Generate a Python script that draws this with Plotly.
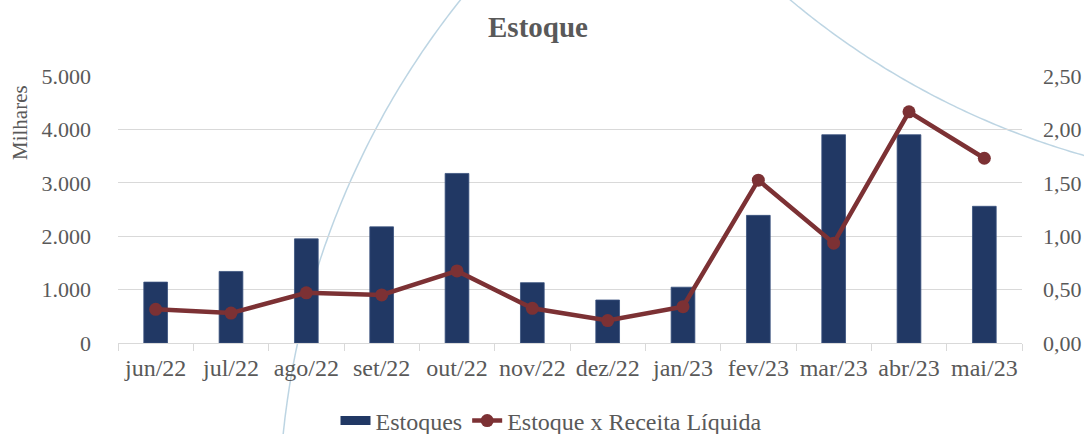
import numpy as np
import plotly.graph_objects as go

# ---- data ----
categories = ["jun/22", "jul/22", "ago/22", "set/22", "out/22", "nov/22",
              "dez/22", "jan/23", "fev/23", "mar/23", "abr/23", "mai/23"]
estoques = [1140, 1340, 1950, 2175, 3175, 1130, 805, 1045, 2390, 3900, 3900, 2560]
estoque_receita = [0.315, 0.28, 0.47, 0.45, 0.675, 0.325, 0.21, 0.34, 1.525, 0.935, 2.165, 1.73]
left_ticks = [0, 1000, 2000, 3000, 4000, 5000]
right_ticks = [0, 0.5, 1.0, 1.5, 2.0, 2.5]

# ---- styling ----
FONT = "Liberation Serif, Times New Roman, serif"
GREY = "#595959"
GRID = "#d9d9d9"
NAVY = "#213864"
MAROON = "#7c3134"
W, H = 1084, 434
# plot area in pixels
PL, PR, PT, PB = 118, 1022, 76, 343

def px_to_paper(x, y):
    return (x - PL) / (PR - PL), (PB - y) / (PB - PT)

def circle_arc(p1, p2, p3, n=80):
    (x1, y1), (x2, y2), (x3, y3) = p1, p2, p3
    d = 2 * (x1 * (y2 - y3) + x2 * (y3 - y1) + x3 * (y1 - y2))
    ux = ((x1**2 + y1**2) * (y2 - y3) + (x2**2 + y2**2) * (y3 - y1) + (x3**2 + y3**2) * (y1 - y2)) / d
    uy = ((x1**2 + y1**2) * (x3 - x2) + (x2**2 + y2**2) * (x1 - x3) + (x3**2 + y3**2) * (x2 - x1)) / d
    r = np.hypot(x1 - ux, y1 - uy)
    a1 = np.arctan2(y1 - uy, x1 - ux)
    a3 = np.arctan2(y3 - uy, x3 - ux)
    a2 = np.arctan2(y2 - uy, x2 - ux)
    def between(a, b, c):
        return (b - a) % (2 * np.pi) <= (c - a) % (2 * np.pi)
    if between(a1, a2, a3):
        span = (a3 - a1) % (2 * np.pi)
    else:
        span = -((a1 - a3) % (2 * np.pi))
    ang = a1 + np.linspace(0, span, n)
    pts = [px_to_paper(ux + r * np.cos(a), uy + r * np.sin(a)) for a in ang]
    return "M " + " L ".join(f"{x:.4f},{y:.4f}" for x, y in pts)

fig = go.Figure()
fig.add_trace(go.Bar(
    x=categories, y=estoques, name="Estoques", showlegend=False,
    marker=dict(color=NAVY, line=dict(color="#3a527e", width=0.8)),
    yaxis="y",
))
# legend entry drawn as a wide rectangle, as in the original
fig.add_trace(go.Scatter(
    x=[None], y=[None], name="Estoques", mode="lines",
    line=dict(color=NAVY, width=9), yaxis="y", hoverinfo="skip",
))
fig.add_trace(go.Scatter(
    x=categories, y=estoque_receita, name="Estoque x Receita Líquida",
    mode="lines+markers",
    line=dict(color=MAROON, width=4.5),
    marker=dict(color=MAROON, size=13),
    yaxis="y2",
))

arc_style = dict(color="rgba(178,206,222,0.85)", width=1.5)
shapes = [
    dict(type="path", xref="paper", yref="paper", layer="below", line=arc_style,
         path=circle_arc((283, 436), (328, 237), (462, -2))),
    dict(type="path", xref="paper", yref="paper", layer="below", line=arc_style,
         path=circle_arc((788, -2), (898, 76), (1086, 156))),
]

fig.update_layout(
    width=W, height=H,
    margin=dict(l=PL, r=W - PR, t=PT, b=H - PB, pad=0, autoexpand=False),
    paper_bgcolor="white", plot_bgcolor="rgba(0,0,0,0)",
    separators=",.",
    font=dict(family=FONT, size=22, color=GREY),
    title=dict(text="<b>Estoque</b>", x=538 / W, xref="container", xanchor="center",
               y=1 - 27 / H, yref="container", yanchor="middle",
               font=dict(family=FONT, size=29, color=GREY)),
    bargap=0.685,
    showlegend=True,
    legend=dict(orientation="h", x=(551 - PL) / (PR - PL), xref="paper", xanchor="center",
                y=(PB - 421) / (PB - PT), yanchor="middle",
                font=dict(family=FONT, size=24, color=GREY),
                bgcolor="rgba(0,0,0,0)", traceorder="normal"),
    xaxis=dict(type="category", range=[-0.5, len(categories) - 0.5],
               showgrid=False, showline=True, linecolor=GRID, linewidth=1.3,
               ticks="outside", tickson="boundaries", ticklen=7, tickcolor=GRID, tickwidth=1.3,
               tickangle=0, automargin=False,
               tickfont=dict(family=FONT, size=24, color=GREY), ticklabelstandoff=3),
    yaxis=dict(range=[0, 5000], tickvals=left_ticks, tickformat=",d", automargin=False,
               showgrid=True, gridcolor=GRID, gridwidth=1.3, zeroline=False, showline=False,
               tickfont=dict(family=FONT, size=22, color=GREY), ticklabelstandoff=26),
    yaxis2=dict(range=[0, 2.5], tickvals=right_ticks, tickformat=".2f", automargin=False,
                overlaying="y", side="right", showgrid=False, zeroline=False, showline=False,
                tickfont=dict(family=FONT, size=22, color=GREY), ticklabelstandoff=20),
    shapes=shapes,
    annotations=[dict(text="Milhares", textangle=-90, xref="paper", yref="paper",
                      x=(20 - PL) / (PR - PL), y=(PB - 123) / (PB - PT),
                      xanchor="center", yanchor="middle", showarrow=False,
                      font=dict(family=FONT, size=21, color=GREY))],
)

fig.write_html(
    "out.html",
    config={"displayModeBar": False},
    post_script="document.body.style.margin='0';document.body.style.overflow='hidden';",
)
